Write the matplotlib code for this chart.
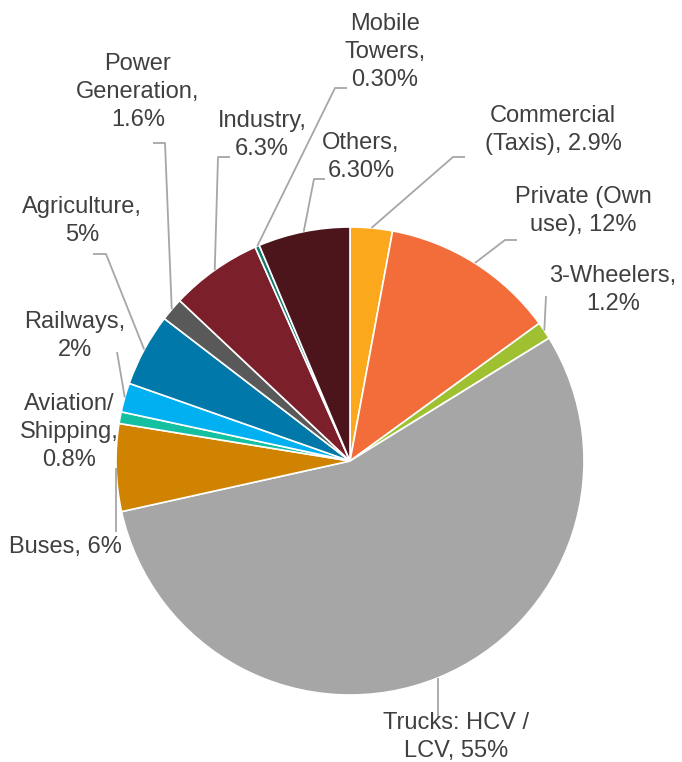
import matplotlib
matplotlib.use("Agg")
import matplotlib.pyplot as plt
import numpy as np

# Share of diesel consumption by sector (clockwise from 12 o'clock)
categories = ["Commercial\n(Taxis)", "Private (Own\nuse)", "3-Wheelers", "Trucks: HCV /\nLCV",
              "Buses", "Aviation/\nShipping", "Railways", "Agriculture",
              "Power\nGeneration", "Industry", "Mobile\nTowers", "Others"]
shares = [2.9, 12, 1.2, 55, 6, 0.8, 2, 5, 1.6, 6.3, 0.3, 6.3]
share_labels = ["2.9%", "12%", "1.2%", "55%", "6%", "0.8%", "2%", "5%",
                "1.6%", "6.3%", "0.30%", "6.30%"]
colors = ["#FBA81C", "#F26D39", "#9FC131", "#A6A6A6", "#D08300", "#13C0A0",
          "#00B0F0", "#0079AA", "#595959", "#7B1F2B", "#127B6E", "#4C141B"]

W, H = 682, 762
fig = plt.figure(figsize=(W / 100, H / 100), dpi=100)
ax = fig.add_axes([0, 0, 1, 1])


def Y(py):
    return H - py


cx, cy, R = 350, Y(461), 234
wedges, _ = ax.pie(shares, colors=colors, startangle=90, counterclock=False,
                   center=(cx, cy), radius=R, frame=True,
                   wedgeprops=dict(edgecolor="white", linewidth=1.2))
ax.set_xlim(0, W)
ax.set_ylim(0, H)
ax.set_aspect("equal")
ax.axis("off")

# label block centre (x, y) and separator between name and share
label_pos = [(553, 130), (583, 211), (613, 290), (456, 737), (65, 547), (69, 432),
             (75, 336), (82, 221), (138, 92), (262, 135), (385, 52), (361, 157)]
seps = [" ", " ", "\n", " ", " ", "\n", "\n", "\n", "\n", "\n", "\n", "\n"]
# leader-line bend points following the edge point
leader_path = [
    [(453, 157), (465, 157)],
    [(505, 240), (517, 240)],
    [(546, 296)],
    [(None, 718)],
    [(None, 532)],
    [],
    [(117, 352)],
    [(106, 254), (93, 254)],
    [(165, 143), (153, 143)],
    [(218, 157), (230, 157)],
    [(335, 88), (347, 88)],
    [(314, 179), (325, 179)],
]

text_color = "#404040"
line_color = "#A6A6A6"

for w, cat, lab, sep, pos, path in zip(wedges, categories, share_labels, seps,
                                       label_pos, leader_path):
    mid = np.deg2rad((w.theta1 + w.theta2) / 2)
    ex, ey = cx + R * np.cos(mid), cy + R * np.sin(mid)
    if path:
        xs, ys = [ex], [ey]
        for px, py in path:
            xs.append(ex if px is None else px)
            ys.append(Y(py))
        ax.plot(xs, ys, color=line_color, lw=1.3, zorder=1, solid_capstyle="butt")
    text = f"{cat},{sep}{lab}"
    ax.text(pos[0], Y(pos[1]), text, ha="center", va="center",
            multialignment="center", fontsize=17, color=text_color,
            family=["Liberation Sans", "DejaVu Sans"], linespacing=1.36,
            zorder=5)

fig.savefig("out.png", dpi=100)
